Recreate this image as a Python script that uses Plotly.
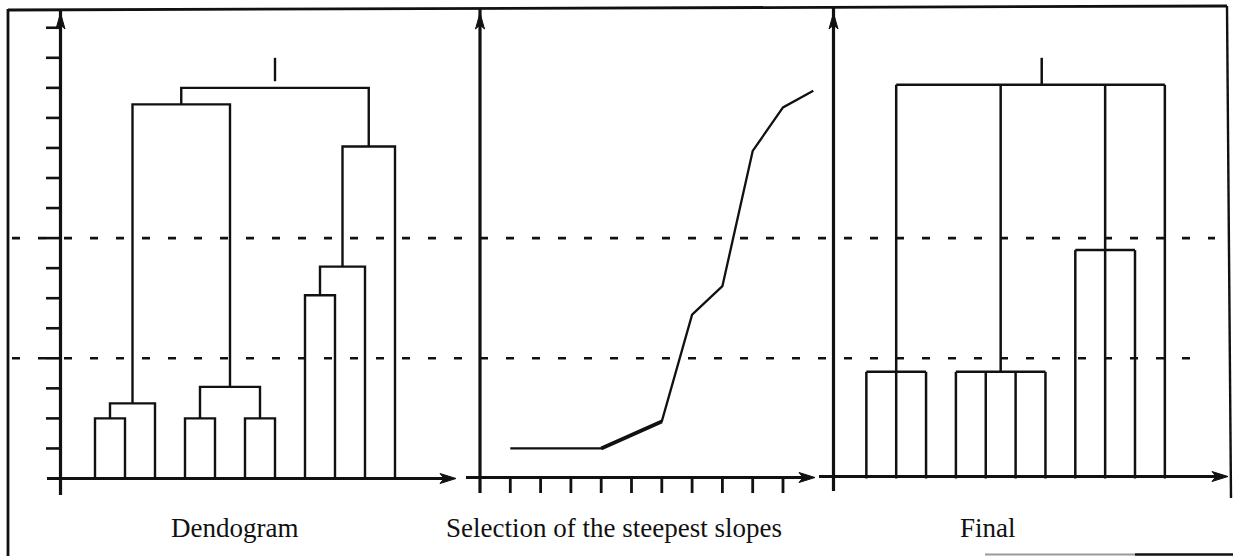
import plotly.graph_objects as go

W, H = 1233, 556

# ---------------- data ----------------
leaves = list(range(1, 12))          # 11 objects, numbered 1..11
# linkage rows: (left cluster, right cluster, merge height)
# clusters 1..11 are leaves, row i creates cluster 12+i
linkage_left = [1, 12, 4, 6, 14, 13, 8, 18, 19, 17]
linkage_right = [2, 3, 5, 7, 15, 16, 9, 10, 11, 20]
linkage_height = [2.0, 2.5, 2.0, 2.0, 3.05, 12.45, 6.1, 7.05, 11.05, 13.0]
dendro_stub_top = 14.0
cut_levels = [4, 8]

slope_steps = list(range(1, 12))
slope_values = [1.0, 1.0, 1.0, 1.0, 1.45, 1.9, 5.45, 6.4, 10.9, 12.35, 12.9]
bold_steps = [4, 5, 6]

final_groups = [[1, 2, 3], [4, 5, 6, 7], [8, 9, 10], [11]]
final_group_heights = [3.55, 3.55, 7.6, None]
final_root_height = 13.1
final_stub_top = 14.0

y_tick_levels = list(range(1, 16))
x_tick_steps = list(range(1, 11))

titles = ["Dendogram", "Selection of the steepest slopes", "Final"]

# ---------------- layout helpers ----------------
INK = "#111111"
Y0_PX, Y_UNIT = 478.5, 30.05


def X(px):
    return px / W


def Y(py):
    return 1 - py / H


def xaxis_for(origin_px, unit_px, x0_px, x1_px):
    return dict(domain=[x0_px / W, x1_px / W],
                range=[(x0_px - origin_px) / unit_px, (x1_px - origin_px) / unit_px],
                visible=False, fixedrange=True, anchor="y")


fig = go.Figure()

# ---------------- panel 1: dendrogram ----------------
pos = {k: float(k) for k in leaves}
hgt = {k: 0.0 for k in leaves}
dx, dy = [], []
for i, (a, b, h) in enumerate(zip(linkage_left, linkage_right, linkage_height)):
    dx += [pos[a], pos[a], pos[b], pos[b], None]
    dy += [hgt[a], h, h, hgt[b], None]
    c = 12 + i
    pos[c] = (pos[a] + pos[b]) / 2
    hgt[c] = h
root = 12 + len(linkage_height) - 1
dx += [pos[root], pos[root], None]
dy += [hgt[root] + 0.22, dendro_stub_top, None]
fig.add_trace(go.Scatter(x=dx, y=dy, mode="lines", xaxis="x", yaxis="y",
                         line=dict(color=INK, width=2.4), hoverinfo="skip", showlegend=False))

# ---------------- panel 2: slope curve ----------------
fig.add_trace(go.Scatter(x=slope_steps, y=slope_values, mode="lines", xaxis="x2", yaxis="y",
                         line=dict(color=INK, width=2.3), hoverinfo="skip", showlegend=False))
bx = [s for s in slope_steps if s in bold_steps]
by = [v for s, v in zip(slope_steps, slope_values) if s in bold_steps]
fig.add_trace(go.Scatter(x=bx, y=by, mode="lines", xaxis="x2", yaxis="y",
                         line=dict(color=INK, width=3.8), hoverinfo="skip", showlegend=False))

# ---------------- panel 3: final tree ----------------
fx, fy = [], []
centers = []
for grp, gh in zip(final_groups, final_group_heights):
    c = sum(grp) / len(grp)
    centers.append(c)
    if gh is None:
        fx += [c, c, None]
        fy += [0, final_root_height, None]
        continue
    for k in grp:
        fx += [k, k, None]
        fy += [0, gh, None]
    fx += [min(grp), max(grp), None]
    fy += [gh, gh, None]
    fx += [c, c, None]
    fy += [gh, final_root_height, None]
fx += [centers[0], centers[-1], None]
fy += [final_root_height, final_root_height, None]
stub = sum(centers) / len(centers)
fx += [stub, stub, None]
fy += [final_root_height, final_stub_top, None]
fig.add_trace(go.Scatter(x=fx, y=fy, mode="lines", xaxis="x3", yaxis="y",
                         line=dict(color=INK, width=2.5), hoverinfo="skip", showlegend=False))

# ---------------- decorations ----------------
shapes = []


def pline(x0, y0, x1, y1, w=3.0, color=INK, dash=None):
    ln = dict(color=color, width=w)
    if dash:
        ln["dash"] = dash
    shapes.append(dict(type="line", xref="paper", yref="paper",
                       x0=X(x0), y0=Y(y0), x1=X(x1), y1=Y(y1), line=ln))


def arrow_right(tip_x, tip_y):
    shapes.append(dict(type="path", xref="paper", yref="paper", xsizemode="pixel", ysizemode="pixel",
                       xanchor=X(tip_x), yanchor=Y(tip_y),
                       path="M0,0 L-16,5 L-12,0 L-16,-5 Z",
                       fillcolor=INK, line=dict(color=INK, width=1)))


def arrow_up(tip_x, tip_y):
    shapes.append(dict(type="path", xref="paper", yref="paper", xsizemode="pixel", ysizemode="pixel",
                       xanchor=X(tip_x), yanchor=Y(tip_y),
                       path="M0,0 L-4.5,-16 L0,-12 L4.5,-16 Z",
                       fillcolor=INK, line=dict(color=INK, width=1)))


# frame
pline(8, 10, 1227, 6, 2.8)
pline(8, 9, 8, 556, 2.8)
pline(1227, 6, 1231, 498, 2.4)
pline(985, 554.5, 1135, 554.5, 2, "#9a9a9a")
pline(1135, 554.5, 1233, 554.5, 2.4)

# panel axes (y-axis x, top, bottom; x-axis start, end)
panels = [(60.5, 10, 495, 47, 456, 478.5),
          (480, 8, 493, 466, 815, 477.5),
          (833.5, 7, 491, 819, 1228, 476.5)]
for ax_x, top, bot, xs, xe, ay in panels:
    pline(ax_x, top, ax_x, bot, 3.2)
    pline(xs, ay, xe - 8, ay, 3.2)
    arrow_up(ax_x, 13)
    arrow_right(xe, ay)

# panel 1 y ticks
for lv in y_tick_levels:
    shapes.append(dict(type="line", xref="paper", yref="y", x0=X(46), x1=X(60.5), y0=lv, y1=lv,
                       line=dict(color=INK, width=2.6)))
# panel 2 x ticks
for s in x_tick_steps:
    shapes.append(dict(type="line", xref="x2", yref="paper", x0=s, x1=s, y0=Y(477.5), y1=Y(493),
                       line=dict(color=INK, width=2.8)))

# dashed cut levels
dash_ends = {4: 1195, 8: 1215}
for lv in cut_levels:
    shapes.append(dict(type="line", xref="paper", yref="y", x0=X(12), x1=X(dash_ends[lv]), y0=lv, y1=lv,
                       line=dict(color=INK, width=2.6, dash="8px,18px")))

# titles
title_centers = [234, 614, 987.5]
annotations = [dict(text=t, x=X(cx), y=Y(528), xref="paper", yref="paper", showarrow=False,
                    xanchor="center", yanchor="middle",
                    font=dict(family="Liberation Serif", size=27, color=INK))
               for t, cx in zip(titles, title_centers)]

fig.update_layout(
    width=W, height=H, margin=dict(l=0, r=0, t=0, b=0),
    paper_bgcolor="white", plot_bgcolor="white",
    xaxis=xaxis_for(65, 30, 0, 462),
    xaxis2=xaxis_for(480, 30.3, 462, 818),
    xaxis3=xaxis_for(836.5, 29.85, 818, 1233),
    yaxis=dict(domain=[0, 1], range=[(Y0_PX - H) / Y_UNIT, Y0_PX / Y_UNIT],
               visible=False, fixedrange=True, anchor="x"),
    shapes=shapes, annotations=annotations, showlegend=False,
)

fig.write_html("out.html", config={"staticPlot": True},
               post_script="document.body.style.margin='0';document.body.style.overflow='hidden';")
